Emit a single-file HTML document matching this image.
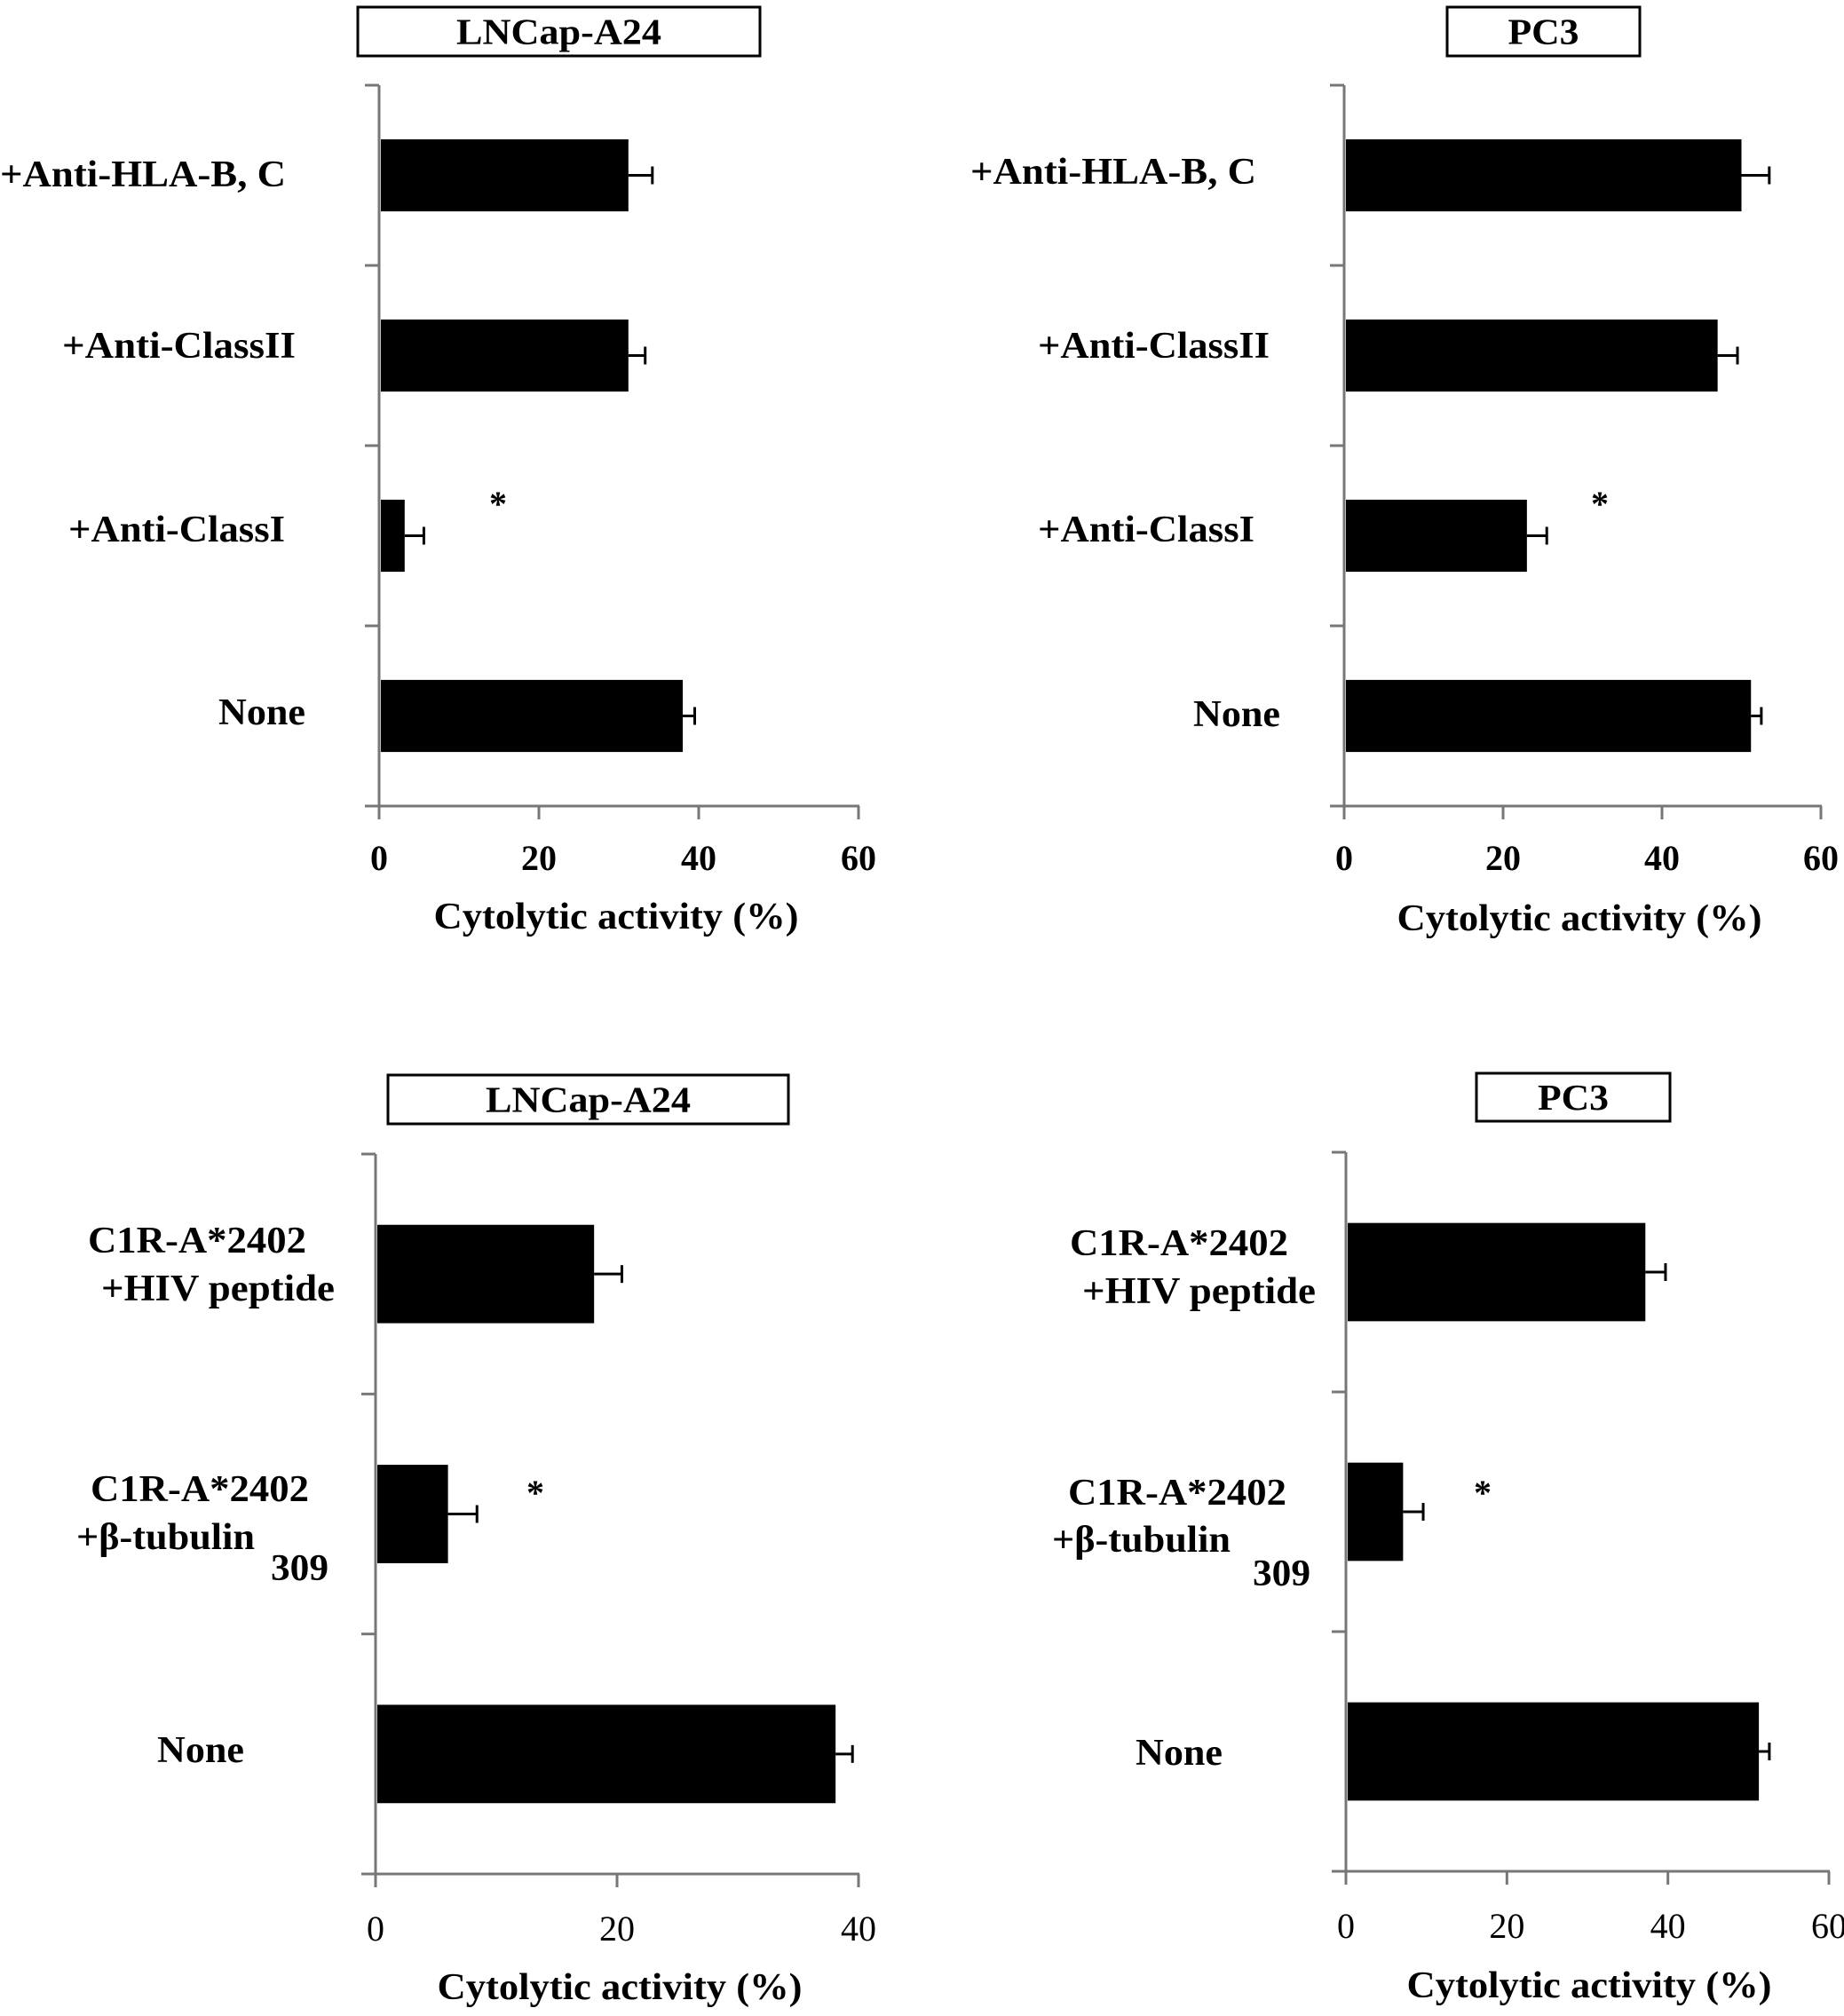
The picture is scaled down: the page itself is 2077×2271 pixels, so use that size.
<!DOCTYPE html>
<html><head><meta charset="utf-8">
<style>
html,body{margin:0;padding:0;background:#fff;}
svg{display:block;font-family:"Liberation Serif",serif;}
</style></head>
<body>
<svg id="fig" width="2077" height="2271" viewBox="0 0 2077 2271" xmlns="http://www.w3.org/2000/svg"></svg>
<script>
// Panel A (top-left) LNCap-A24
const catsTop = ["+Anti-HLA-B, C", "+Anti-ClassII", "+Anti-ClassI", "None"];
const lncapTopValues = [31.2, 31.2, 3.2, 38.0];
const lncapTopErrors = [3.0, 2.1, 2.4, 1.5];
// Panel B (top-right) PC3
const pc3TopValues = [50.0, 47.0, 23.0, 51.2];
const pc3TopErrors = [3.5, 2.5, 2.5, 1.3];
// Panel C (bottom-left) LNCap-A24
const catsBottom = ["C1R-A*2402 +HIV peptide", "C1R-A*2402 +β-tubulin 309", "None"];
const lncapBottomValues = [18.1, 6.0, 38.1];
const lncapBottomErrors = [2.3, 2.4, 1.4];
// Panel D (bottom-right) PC3
const pc3BottomValues = [37.2, 7.1, 51.3];
const pc3BottomErrors = [2.5, 2.5, 1.3];
const ticksTop = [0, 20, 40, 60];
const ticksBL = [0, 20, 40];
const ticksBR = [0, 20, 40, 60];

const svg = document.getElementById('fig');
const NS = 'http://www.w3.org/2000/svg';
function mk(tag, attrs, parent) {
  const e = document.createElementNS(NS, tag);
  for (const k in attrs) e.setAttribute(k, attrs[k]);
  (parent || svg).appendChild(e);
  return e;
}

function panel(cfg) {
  const g = mk('g', {});
  
  
  const x = v => cfg.x0 + (v - cfg.min) / (cfg.max - cfg.min) * (cfg.x1 - cfg.x0);
  const tb = mk('rect', {x: cfg.box[0], y: cfg.box[1], width: cfg.box[2] - cfg.box[0], height: cfg.box[3] - cfg.box[1], fill: '#fff', stroke: '#000', 'stroke-width': 3}, g);
  
  
  const tt = mk('text', {x: (cfg.box[0] + cfg.box[2]) / 2, y: (cfg.box[1] + cfg.box[3]) / 2 + 14, 'text-anchor': 'middle', 'font-size': 41, 'font-weight': 'bold', textLength: cfg.titleW, lengthAdjust: 'spacingAndGlyphs'}, g);
  tt.textContent = cfg.title;
  
  
  const ya = mk('line', {x1: cfg.x0, y1: cfg.yTop, x2: cfg.x0, y2: cfg.yBot, stroke: '#777', 'stroke-width': 3}, g);
  
  
  const xa = mk('line', {x1: cfg.x0 - 16, y1: cfg.yBot, x2: cfg.x1 + 1, y2: cfg.yBot, stroke: '#777', 'stroke-width': 3}, g);
  
  
  const n = cfg.values.length;
  const band = (cfg.yBot - cfg.yTop) / n;
  for (let i = 0; i < n; i++) {
    const ty = cfg.yTop + band * i;
    const tk = mk('line', {x1: cfg.x0 - 16, y1: ty, x2: cfg.x0, y2: ty, stroke: '#777', 'stroke-width': 3}, g);
    
    
  }
  cfg.ticks.forEach(t => {
    const tk = mk('line', {x1: x(t), y1: cfg.yBot, x2: x(t), y2: cfg.yBot + 15, stroke: '#777', 'stroke-width': 3}, g);
    
    
    const tl = mk('text', {x: x(t), y: cfg.tickY, 'text-anchor': 'middle', 'font-size': 40, 'font-weight': cfg.tickBold ? 'bold' : 'normal'}, g);
    tl.textContent = t;
    
    
  });
  const at = mk('text', {x: cfg.axTitleX, y: cfg.axTitleY, 'text-anchor': 'middle', 'font-size': 42, 'font-weight': 'bold', textLength: 411, lengthAdjust: 'spacingAndGlyphs'}, g);
  at.textContent = 'Cytolytic activity (%)';
  
  
  for (let i = 0; i < n; i++) {
    const cy = cfg.yTop + band * (i + 0.5);
    const bh = band * cfg.barFrac;
    const b = mk('rect', {x: x(0) + 2, y: cy - bh / 2, width: x(cfg.values[i]) - x(0) - 2, height: bh, fill: '#000'}, g);
    
    
    const ex = x(cfg.values[i] + cfg.errors[i]);
    const el = mk('line', {x1: x(cfg.values[i]), y1: cy, x2: ex, y2: cy, stroke: '#000', 'stroke-width': 3}, g);
    
    
    const ec = mk('line', {x1: ex, y1: cy - 10, x2: ex, y2: cy + 10, stroke: '#000', 'stroke-width': 3}, g);
    
    
  }
  cfg.labels.forEach(l => {
    const t = mk('text', {x: l[1], y: l[2], 'font-size': 42, 'font-weight': 'bold', textLength: l[3], lengthAdjust: 'spacingAndGlyphs'}, g);
    t.textContent = l[0];
    
    
  });
  const st = mk('text', {x: cfg.star[0], y: cfg.star[1] + 16, 'text-anchor': 'middle', 'font-size': 40, 'font-weight': 'bold'}, g);
  st.textContent = '*';
  
  
}

panel({name: 'panel-lncap-top', title: 'LNCap-A24', titleW: 231, box: [403, 8, 856, 63],
  x0: 427, x1: 967, min: 0, max: 60, yTop: 96, yBot: 908, ticks: ticksTop, tickBold: true, tickY: 980,
  values: lncapTopValues, errors: lncapTopErrors, barFrac: 0.40,
  axTitleX: 694, axTitleY: 1046,
  labels: [[catsTop[0], 0, 210, 322], [catsTop[1], 70, 403, 263], [catsTop[2], 77, 610, 244], [catsTop[3], 246, 816, 98]],
  star: [561, 565]});
panel({name: 'panel-pc3-top', title: 'PC3', titleW: 80, box: [1630, 8, 1847, 63],
  x0: 1514, x1: 2051, min: 0, max: 60, yTop: 96, yBot: 908, ticks: ticksTop, tickBold: true, tickY: 980,
  values: pc3TopValues, errors: pc3TopErrors, barFrac: 0.40,
  axTitleX: 1779, axTitleY: 1048,
  labels: [[catsTop[0], 1093, 207, 322], [catsTop[1], 1169, 403, 261], [catsTop[2], 1169, 610, 244], [catsTop[3], 1344, 818, 98]],
  star: [1802, 565]});
panel({name: 'panel-lncap-bottom', title: 'LNCap-A24', titleW: 231, box: [437, 1211, 888, 1266],
  x0: 423, x1: 967, min: 0, max: 40, yTop: 1300, yBot: 2111, ticks: ticksBL, tickBold: false, tickY: 2186,
  values: lncapBottomValues, errors: lncapBottomErrors, barFrac: 0.41,
  axTitleX: 698, axTitleY: 2252,
  labels: [['C1R-A*2402', 99, 1411, 246], ['+HIV peptide', 114, 1465, 263], ['C1R-A*2402', 102, 1691, 246], ['+β-tubulin', 86, 1745, 201], ['309', 305, 1780, 65]],
  star: [603, 1679]});
panel({name: 'panel-pc3-bottom', title: 'PC3', titleW: 80, box: [1663, 1209, 1881, 1263],
  x0: 1516, x1: 2060, min: 0, max: 60, yTop: 1298, yBot: 2108, ticks: ticksBR, tickBold: false, tickY: 2183,
  values: pc3BottomValues, errors: pc3BottomErrors, barFrac: 0.41,
  axTitleX: 1790, axTitleY: 2250,
  labels: [['C1R-A*2402', 1205, 1414, 246], ['+HIV peptide', 1219, 1468, 263], ['C1R-A*2402', 1203, 1695, 246], ['+β-tubulin', 1185, 1748, 201], ['309', 1411, 1786, 65]],
  star: [1670, 1679]});
[[catsBottom[2], 177, 1985], [catsBottom[2], 1279, 1988]].forEach(l => {
  const t = mk('text', {x: l[1], y: l[2], 'font-size': 42, 'font-weight': 'bold', textLength: 98, lengthAdjust: 'spacingAndGlyphs'});
  t.textContent = l[0];
  
  
});
</script>
</body></html>
